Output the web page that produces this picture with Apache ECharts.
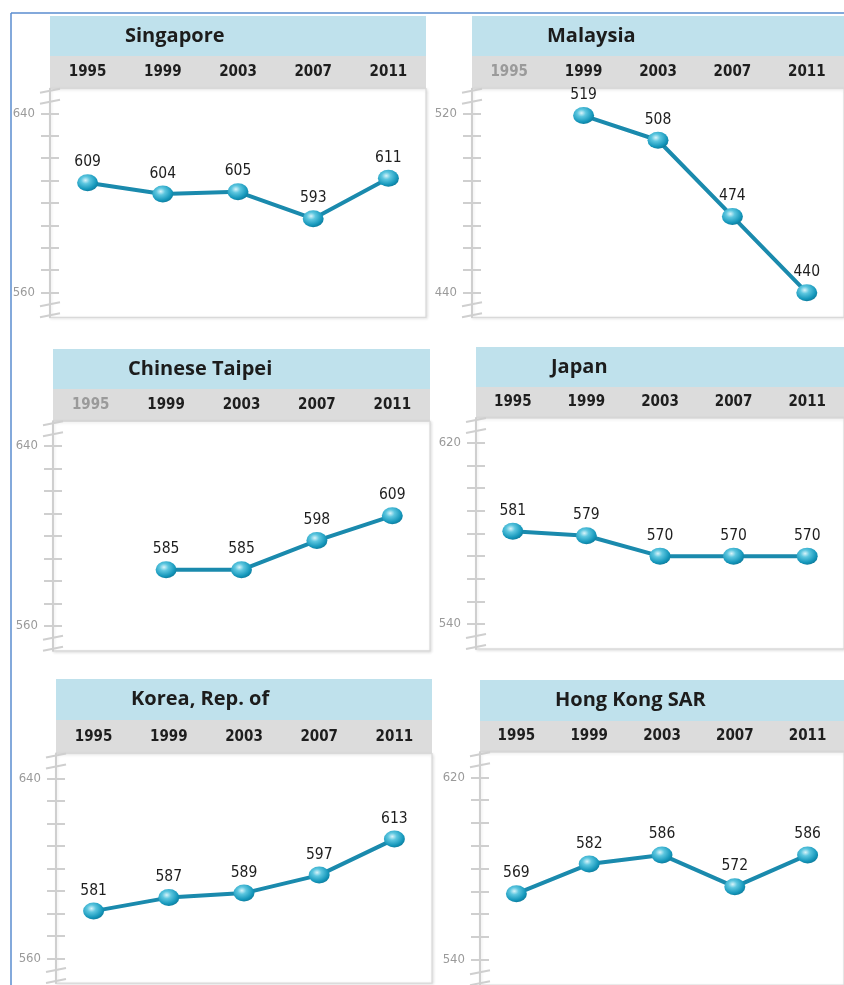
<!DOCTYPE html>
<html><head><meta charset="utf-8">
<script src="https://cdn.jsdelivr.net/npm/echarts@6/dist/echarts.min.js"></script>
<style>html,body{margin:0;padding:0;background:#fff}#c{width:844px;height:985px}</style>
</head><body><div id="c"></div>
<script>
// ---- data ----
const years = ['1995', '1999', '2003', '2007', '2011'];
const countries = ['Singapore', 'Malaysia', 'Chinese Taipei', 'Japan', 'Korea, Rep. of', 'Hong Kong SAR'];
const singapore     = [609, 604, 605, 593, 611];
const malaysia      = [null, 519, 508, 474, 440];
const chineseTaipei = [null, 585, 585, 598, 609];
const japan         = [581, 579, 570, 570, 570];
const korea         = [581, 587, 589, 597, 613];
const hongKong      = [569, 582, 586, 572, 586];
// y tick labels (low, high) for each panel
const yLabelsSingapore = [560, 640];
const yLabelsMalaysia  = [440, 520];
const yLabelsTaipei    = [560, 640];
const yLabelsJapan     = [540, 620];
const yLabelsKorea     = [560, 640];
const yLabelsHongKong  = [540, 620];

const seriesData = [singapore, malaysia, chineseTaipei, japan, korea, hongKong];
const yLabels = [yLabelsSingapore, yLabelsMalaysia, yLabelsTaipei, yLabelsJapan, yLabelsKorea, yLabelsHongKong];

// ---- layout (pixels) ----
const layout = [
  {left: 50,  width: 376, titleTop: 16,  titleBottom: 56,  top: 88.7,  height: 228.6},
  {left: 472, width: 374, titleTop: 16,  titleBottom: 56,  top: 88.7,  height: 228.6},
  {left: 53,  width: 377, titleTop: 349, titleBottom: 389, top: 421.3, height: 229.5},
  {left: 476, width: 372, titleTop: 347, titleBottom: 387, top: 418.1, height: 230.8},
  {left: 56,  width: 376, titleTop: 679, titleBottom: 720, top: 753.6, height: 229.5},
  {left: 480, width: 377, titleTop: 680, titleBottom: 721, top: 752.2, height: 233}
];

const NARROW = "'Liberation Sans Narrow', 'DejaVu Sans Condensed', 'Liberation Sans', sans-serif";
const BOLDF = "'Open Sans', 'Noto Sans', sans-serif";
const AXIS_GREY = '#cfcfcf';

const grids = [], xAxes = [], yAxes = [], series = [], graphics = [];

// outer blue frame
graphics.push({type: 'line', z: 20, shape: {x1: 11, y1: 13, x2: 844, y2: 13}, style: {stroke: '#5a8ccf', lineWidth: 1.5}});
graphics.push({type: 'line', z: 20, shape: {x1: 11, y1: 13, x2: 11, y2: 985}, style: {stroke: '#5a8ccf', lineWidth: 1.5}});

layout.forEach((L, i) => {
  const data = seriesData[i];
  const lo = yLabels[i][0], hi = yLabels[i][1];
  const ticks = [];
  for (let v = lo; v <= hi; v += 10) ticks.push(v);

  grids.push({
    left: L.left, top: L.top, width: L.width, height: L.height,
    show: true, backgroundColor: '#fff', borderColor: '#d9d9d9', borderWidth: 1.2,
    shadowColor: 'rgba(0,0,0,0.12)', shadowBlur: 3, shadowOffsetX: 1, shadowOffsetY: 1
  });

  const labelCenter = (L.titleBottom + L.top) / 2;
  xAxes.push({
    type: 'category', gridIndex: i, data: years, position: 'top',
    boundaryGap: true,
    axisLine: {show: false}, axisTick: {show: false}, splitLine: {show: false},
    axisLabel: {
      margin: (L.top - labelCenter) - 8.5,
      formatter: (val, idx) => (data[idx] == null ? '{m|' + val + '}' : '{b|' + val + '}'),
      rich: {
        b: {fontFamily: NARROW, fontWeight: 'bold', fontSize: 15, color: '#1e1e1e', lineHeight: 17},
        m: {fontFamily: NARROW, fontWeight: 'bold', fontSize: 15, color: '#9a9a9a', lineHeight: 17}
      }
    }
  });

  // main y axis: outer ticks + labels
  yAxes.push({
    type: 'value', gridIndex: i, position: 'left', min: lo - 11, max: hi + 11,
    axisLine: {show: true, lineStyle: {color: AXIS_GREY, width: 2}},
    axisTick: {show: true, inside: false, length: 9, customValues: ticks, lineStyle: {color: AXIS_GREY, width: 2}},
    axisLabel: {show: true, customValues: [lo, hi], margin: 15, color: '#9a9a9a', fontSize: 13, fontFamily: NARROW},
    splitLine: {show: false}
  });
  // secondary y axis: inner ticks (same side)
  yAxes.push({
    type: 'value', gridIndex: i, position: 'left', offset: 0, min: lo - 11, max: hi + 11,
    axisLine: {show: false},
    axisTick: {show: true, inside: true, length: 9, customValues: ticks, lineStyle: {color: AXIS_GREY, width: 2}},
    axisLabel: {show: false},
    splitLine: {show: false}
  });

  series.push({
    type: 'line', xAxisIndex: i, yAxisIndex: 2 * i, data: data,
    symbol: 'circle', symbolSize: [21, 17],
    lineStyle: {color: '#1a8aad', width: 4},
    itemStyle: {
      color: {type: 'radial', x: 0.4, y: 0.35, r: 0.7,
        colorStops: [{offset: 0, color: '#d9f4fa'}, {offset: 0.3, color: '#5cc6df'}, {offset: 0.75, color: '#1597bb'}, {offset: 1, color: '#0c7797'}]}
    },
    label: {show: true, position: 'top', distance: 4, color: '#1e1e1e', fontSize: 15.5, fontFamily: NARROW},
    z: 5
  });

  // title bar and year bar
  graphics.push({type: 'rect', z: -10, shape: {x: L.left, y: L.titleTop, width: L.width, height: L.titleBottom - L.titleTop}, style: {fill: '#bfe1ec'}});
  graphics.push({type: 'rect', z: -10, shape: {x: L.left, y: L.titleBottom, width: L.width, height: L.top - L.titleBottom}, style: {fill: '#dcdcdc'}});
  graphics.push({type: 'text', z: 10, x: L.left + 75, y: (L.titleTop + L.titleBottom) / 2,
    style: {text: countries[i], fill: '#1c1c1c', font: 'bold 20px ' + BOLDF, textVerticalAlign: 'middle', verticalAlign: 'middle'}});

  // axis break marks
  const ax = L.left;
  const b = L.top + L.height;
  [L.top + 2, L.top + 13, b - 13, b - 2].forEach(y => {
    graphics.push({type: 'line', z: 10, shape: {x1: ax - 10, y1: y + 2, x2: ax + 10, y2: y - 2},
      style: {stroke: AXIS_GREY, lineWidth: 2}});
  });
});

const chart = echarts.init(document.getElementById('c'), null, {renderer: 'canvas'});
chart.setOption({
  animation: false,
  backgroundColor: '#fff',
  grid: grids, xAxis: xAxes, yAxis: yAxes, series: series,
  graphic: {elements: graphics}
});
</script>
</body></html>
